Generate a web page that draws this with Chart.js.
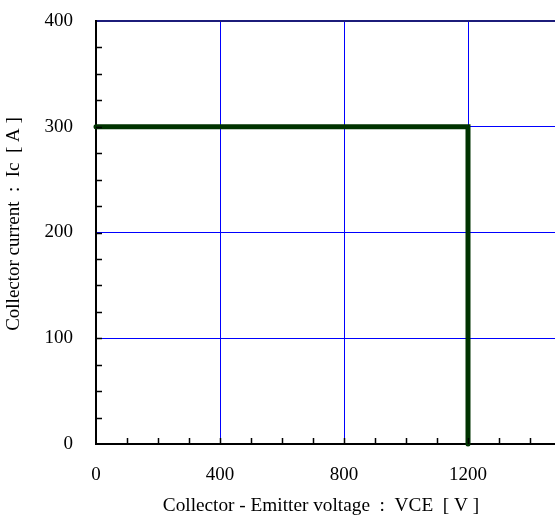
<!DOCTYPE html>
<html>
<head>
<meta charset="utf-8">
<script src="https://cdn.jsdelivr.net/npm/chart.js@4.4.1/dist/chart.umd.min.js"></script>
<style>
  body { margin: 0; overflow: hidden; background: #fff; }
  #wrap { width: 600px; height: 519px; position: relative; }
</style>
</head>
<body>
<div id="wrap"><canvas id="chart"></canvas></div>
<script>

// Data (safe operating area outline)
const vceVolts = [0, 1200, 1200];
const icAmps = [300, 300, 0];

const xTickValues = [0, 400, 800, 1200]; // 1600 is off the page
const yTickValues = [0, 100, 200, 300, 400];

const xTitle = 'Collector - Emitter voltage  :  VCE  [ V ]';
const yTitle = 'Collector current  :  Ic  [ A ]';

const serif = "'Liberation Serif', 'Times New Roman', serif";

// build the points for scatter
let points = [];
for (let i = 0; i < vceVolts.length; i++) {
  points.push({ x: vceVolts[i], y: icAmps[i] });
}

// small inside ticks + the axis titles (both sit off centre in the original)
const extrasPlugin = {
  id: 'extras',
  afterDraw: function (chart) {
    const ctx = chart.ctx;
    const xs = chart.scales.x, ys = chart.scales.y;
    const area = chart.chartArea;

    ctx.save();
    ctx.strokeStyle = '#000';
    ctx.lineWidth = 1.5;
    ctx.beginPath();
    for (let v = 100; v < xs.max; v += 100) {
      const px = Math.round(xs.getPixelForValue(v)) + 0.5;
      ctx.moveTo(px, area.bottom);
      ctx.lineTo(px, area.bottom - 6);
    }
    for (let v = 25; v < ys.max; v += 25) {
      const py = Math.round(ys.getPixelForValue(v)) + 0.5;
      ctx.moveTo(area.left, py);
      ctx.lineTo(area.left + 6, py);
    }
    ctx.stroke();

    ctx.fillStyle = '#000';
    ctx.font = '19.3px ' + serif;
    ctx.textAlign = 'center';
    ctx.textBaseline = 'alphabetic';
    ctx.fillText(xTitle, 321, 511);

    // y title, rotated
    ctx.font = '19px ' + serif;
    ctx.translate(14, 224);
    ctx.rotate(-Math.PI / 2);
    ctx.textBaseline = 'middle';
    ctx.fillText(yTitle, 0, 0);
    ctx.restore();
  }
};

const ctx = document.getElementById('chart');

let socChart = new Chart(ctx, {
  type: 'scatter',
  data: {
    datasets: [
      {
        data: points,
        showLine: true,
        borderColor: '#003300',
        backgroundColor: '#003300',
        borderWidth: 5,
        borderCapStyle: 'round',
        borderJoinStyle: 'miter',
        pointRadius: 0,
        clip: false
      }
    ]
  },
  options: {
    responsive: true,
    maintainAspectRatio: false,
    animation: false,
    layout: { padding: { top: 21, right: 8, left: 0, bottom: 0 } },
    plugins: { legend: { display: false }, tooltip: { enabled: false } },
    scales: {
      x: {
        type: 'linear',
        min: 0,
        max: 1600,
        afterFit: function (s) {
          s.height = 75;
          s.paddingLeft = 0;
          s.paddingRight = 0;
        },
        afterBuildTicks: function (s) {
          s.ticks = xTickValues.concat([1600]).map(function (v) { return { value: v }; });
        },
        ticks: {
          font: { family: serif, size: 19 },
          color: '#000',
          padding: 20,
          maxRotation: 0,
          autoSkip: false,
          callback: function (v) { return xTickValues.includes(v) ? String(v) : ''; }
        },
        grid: {
          drawTicks: false,
          color: function (c) { return c.tick && c.tick.value === 0 ? 'transparent' : '#0000ff'; },
          lineWidth: 1
        },
        border: { color: '#000', width: 2 }
      },
      y: {
        type: 'linear',
        min: 0,
        max: 400,
        afterFit: function (s) {
          s.width = 96;
          s.paddingTop = 0;
          s.paddingBottom = 0;
        },
        afterBuildTicks: function (s) {
          s.ticks = yTickValues.map(function (v) { return { value: v }; });
        },
        ticks: {
          font: { family: serif, size: 19 },
          color: '#000',
          padding: 23
        },
        grid: {
          drawTicks: false,
          color: function (c) {
            if (!c.tick || c.tick.value === 0) return 'transparent';
            return c.tick.value === 400 ? '#1c1c7a' : '#0000ff';
          },
          lineWidth: function (c) { return c.tick && c.tick.value === 400 ? 2 : 1; }
        },
        border: { color: '#000', width: 2 }
      }
    }
  },
  plugins: [extrasPlugin]
});

</script>
</body>
</html>
